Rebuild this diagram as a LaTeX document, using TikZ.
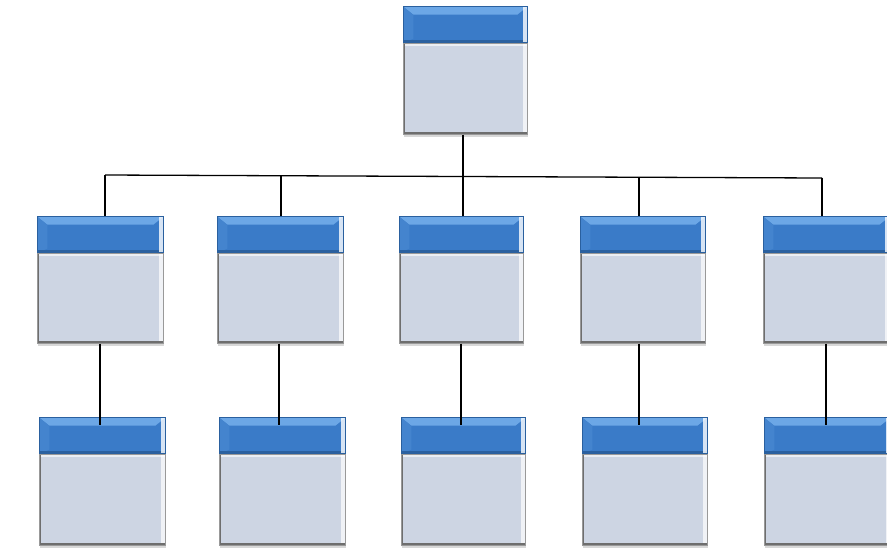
\documentclass[tikz,border=0pt]{standalone}
\usetikzlibrary{shadows}
\definecolor{hdrmain}{HTML}{3A7BC8}
\definecolor{hdrlight}{HTML}{6CA7E6}
\definecolor{hdrdark}{HTML}{2A609F}
\definecolor{bodyc}{HTML}{CDD5E3}
\definecolor{edgec}{HTML}{6E6E6E}
\tikzset{
  hdr/.style={rectangle, inner sep=0pt, fill=hdrmain, draw=hdrdark, line width=0.6pt,
    path picture={
      \fill[hdrlight] (path picture bounding box.north west) -- (path picture bounding box.north east)
        -- ([xshift=-10pt,yshift=-8pt]path picture bounding box.north east)
        -- ([xshift=10pt,yshift=-8pt]path picture bounding box.north west) -- cycle;
      \fill[hdrmain!80!hdrlight] (path picture bounding box.north west) -- ([xshift=10pt,yshift=-8pt]path picture bounding box.north west)
        -- ([xshift=10pt,yshift=4pt]path picture bounding box.south west) -- (path picture bounding box.south west) -- cycle;
      \fill[hdrdark] ([yshift=3pt]path picture bounding box.south west) rectangle (path picture bounding box.south east);
      \fill[white,opacity=0.8] ([xshift=-4pt]path picture bounding box.north east) rectangle (path picture bounding box.south east);
    }},
  bodybox/.style={rectangle, inner sep=0pt, fill=bodyc, draw=edgec!70, line width=0.6pt,
    drop shadow={opacity=0.3, shadow xshift=1pt, shadow yshift=-3pt},
    path picture={
      \fill[white,opacity=0.7] ([xshift=-4pt]path picture bounding box.north east) rectangle (path picture bounding box.south east);
      \fill[white,opacity=0.6] (path picture bounding box.north west) rectangle ([yshift=-3pt]path picture bounding box.north east);
      \fill[edgec] (path picture bounding box.north west) rectangle ([xshift=2pt]path picture bounding box.south west);
      \fill[edgec] ([yshift=2.5pt]path picture bounding box.south west) rectangle (path picture bounding box.south east);
    }},
  conn/.style={draw=black, line width=1.3pt}
}
% name, left x, top y of header, width, body height
\newcommand\orgbox[5]{%
  \node[bodybox, anchor=north west, minimum width=#4pt, minimum height=#5pt] (#1) at (#2,#3+36) {};
  \node[hdr, anchor=south west, minimum width=#4pt, minimum height=36pt] (#1h) at (#1.north west) {};
}
\begin{document}
\begin{tikzpicture}[x=1pt,y=-1pt]
\useasboundingbox (0,0) rectangle (887,550);
\clip (0,0) rectangle (887,550);
\fill[white] (0,0) rectangle (887,550);

\orgbox{top}{403}{7}{124}{91}

\orgbox{a1}{37}{217}{126}{90}
\orgbox{a2}{217}{217}{126}{90}
\orgbox{a3}{399}{217}{124}{90}
\orgbox{a4}{580}{217}{125}{90}
\orgbox{a5}{763}{217}{126}{90}

\orgbox{b1}{39}{418}{126}{91}
\orgbox{b2}{219}{418}{126}{91}
\orgbox{b3}{401}{418}{124}{91}
\orgbox{b4}{582}{418}{125}{91}
\orgbox{b5}{764}{418}{126}{91}

% bus junctions
\coordinate (j1) at (105,175);
\coordinate (j2) at (281,175.7);
\coordinate (j3) at (463,176.5);
\coordinate (j4) at (639,177.2);
\coordinate (j5) at (822,178);
% lower connector x positions
\coordinate (d1) at (100,0);
\coordinate (d2) at (279,0);
\coordinate (d3) at (461,0);
\coordinate (d4) at (639,0);
\coordinate (d5) at (826,0);

\draw[conn] (j1) -- (j5);
\draw[conn] (top.south -| j3) -- (j3);
\foreach \i in {1,...,5}{
  \draw[conn] (j\i) -- (a\i h.north -| j\i);
  \draw[conn] (a\i.south -| d\i) -- ([yshift=-8pt]b\i h.north -| d\i);
}
\end{tikzpicture}
\end{document}
